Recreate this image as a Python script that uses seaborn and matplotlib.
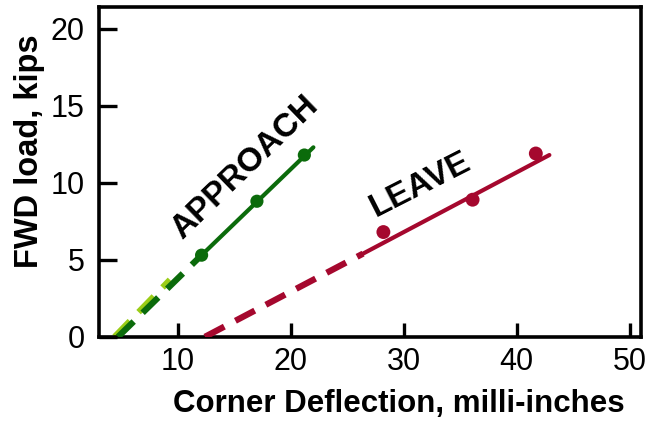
import numpy as np
import pandas as pd
import matplotlib
matplotlib.use("Agg")
import matplotlib.pyplot as plt
import seaborn as sns

# Dados medidos (deflexão de canto x carga FWD)
approach_x = [12.1, 17.0, 21.2]
approach_y = [5.3, 8.8, 11.8]
leave_x = [28.2, 36.1, 41.7]
leave_y = [6.8, 8.9, 11.9]

# Retas ajustadas: trecho extrapolado (tracejado) + trecho medido (sólido)
approach_fit_x = [4.7, 12.1, 22.0]
approach_fit_y = [0.0, 5.3, 12.3]
approach_shadow_x = [4.4, 9.3]
approach_shadow_y = [0.0, 3.7]
leave_fit_x = [12.4, 26.4, 42.9]
leave_fit_y = [0.0, 5.4, 11.8]

x_ticks = [10, 20, 30, 40, 50]
y_ticks = [0, 5, 10, 15, 20]

verde = "#0b6b0b"
verde_claro = "#9acd16"
vermelho = "#a5082e"

sns.set_style("white")
plt.rcParams["font.family"] = ["Liberation Sans", "DejaVu Sans"]
plt.rcParams["text.color"] = "black"
plt.rcParams["axes.labelcolor"] = "black"
plt.rcParams["xtick.color"] = "black"
plt.rcParams["ytick.color"] = "black"

fig = plt.figure(figsize=(6.46, 4.21), dpi=100)
ax = fig.add_axes([0.153, 0.2, 0.839, 0.783])

traco = (3.5, 2.0)

# APPROACH
sns.lineplot(x=approach_shadow_x, y=approach_shadow_y, ax=ax, color=verde_claro,
             lw=4.5, zorder=2).lines[-1].set_dashes(traco)
sns.lineplot(x=approach_fit_x[:2], y=approach_fit_y[:2], ax=ax, color=verde,
             lw=4.5, zorder=3).lines[-1].set_dashes(traco)
sns.lineplot(x=approach_fit_x[1:], y=approach_fit_y[1:], ax=ax, color=verde,
             lw=3, zorder=3)
sns.scatterplot(x=approach_x, y=approach_y, ax=ax, color=verde, s=90,
                edgecolor="none", zorder=4)

# LEAVE
sns.lineplot(x=leave_fit_x[:2], y=leave_fit_y[:2], ax=ax, color=vermelho,
             lw=4.5, zorder=3).lines[-1].set_dashes(traco)
sns.lineplot(x=leave_fit_x[1:], y=leave_fit_y[1:], ax=ax, color=vermelho,
             lw=3, zorder=3)
sns.scatterplot(x=leave_x, y=leave_y, ax=ax, color=vermelho, s=100,
                edgecolor="none", zorder=4)

ax.text(15.95, 11.0, "APPROACH", rotation=44, fontsize=24, fontweight="bold",
        ha="center", va="center", rotation_mode="anchor", color="black")
ax.text(31.5, 9.87, "LEAVE", rotation=27, fontsize=24, fontweight="bold",
        ha="center", va="center", rotation_mode="anchor", color="black")

ax.set_xlim(3, 51)
ax.set_ylim(0, 21.4)
ax.set_xticks(x_ticks)
ax.set_yticks(y_ticks)
ax.tick_params(axis="x", bottom=True, direction="in", length=10, width=2.4,
               labelsize=22, pad=7, colors="black")
ax.tick_params(axis="y", left=True, direction="in", length=13, width=2.4,
               labelsize=22, pad=10, colors="black")
for s in ax.spines.values():
    s.set_linewidth(2.6)
    s.set_color("black")

ax.set_xlabel("Corner Deflection, milli-inches", fontsize=22.5, fontweight="bold")
ax.set_ylabel("FWD load, kips", fontsize=23.5, fontweight="bold")
ax.xaxis.set_label_coords(0.553, -0.158)
ax.yaxis.set_label_coords(-0.1, 0.564)

fig.savefig("out.png", dpi=100)
